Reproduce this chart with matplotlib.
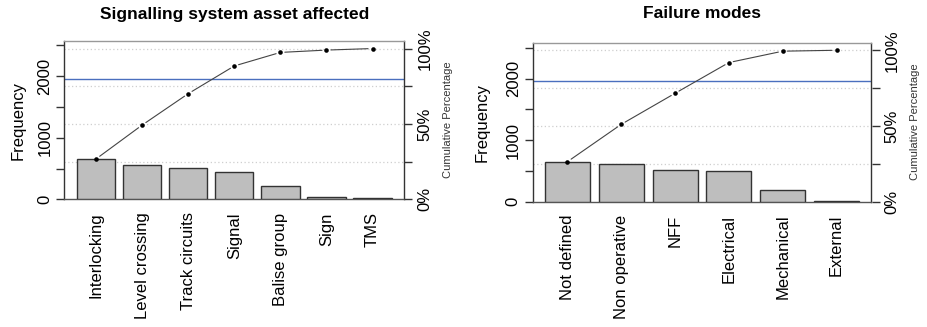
import numpy as np
import matplotlib
matplotlib.use("Agg")
import matplotlib.pyplot as plt

plt.rcParams['font.family'] = ['Liberation Sans', 'DejaVu Sans']

# ---- data ----
assets = ["Interlocking", "Level crossing", "Track circuits", "Signal",
          "Balise group", "Sign", "TMS"]
asset_freq = [656, 550, 510, 450, 220, 38, 25]

modes = ["Not defined", "Non operative", "NFF", "Electrical",
         "Mechanical", "External"]
mode_freq = [648, 608, 505, 500, 185, 15]

titles = ["Signalling system asset affected", "Failure modes"]
freq_ticks = [0, 500, 1000, 1500, 2000, 2500]
freq_labels = ["0", "", "1000", "", "2000", ""]
pct_ticks = [0, 0.25, 0.5, 0.75, 1.0]
pct_labels = ["0%", "", "50%", "", "100%"]

W, H = 928, 327
fig = plt.figure(figsize=(W / 100, H / 100), dpi=100)

# panel boxes in pixels: left, top, right, bottom
boxes = [(64.3, 41.0, 404.3, 199.3), (532.5, 42.7, 871.5, 201.5)]
ylab_x = [18, 482]
cum_x = [448, 915]

FS = 12
dark = "#333333"


def panel(box, cats, vals, title, ylx, cumx):
    l, t, r, b = box
    ax = fig.add_axes([l / W, 1 - b / H, (r - l) / W, (b - t) / H])
    n = len(vals)
    vals = np.asarray(vals, float)
    total = vals.sum()
    cum = np.cumsum(vals)
    pos = 0.7 + 1.2 * np.arange(n)
    lo, hi = 0.2, 1.2 * n
    pad = 0.04 * (hi - lo)
    ax.set_xlim(lo - pad, hi + pad)
    ax.set_ylim(0, 1.05 * total)

    # grid lines at cumulative percentages
    for p in pct_ticks[1:]:
        ax.axhline(p * total, color="#cfcfcf", lw=0.9, ls=(0, (1, 2)), zorder=1)
    ax.axhline(0.8 * total, color="#4a6fbe", lw=1.0, zorder=2)

    ax.bar(pos, vals, width=1.0, color="#bebebe", edgecolor=dark,
           linewidth=1.0, zorder=3)

    # cumulative line (type "b": gaps around points)
    for i in range(n - 1):
        ax.annotate("", xy=(pos[i + 1], cum[i + 1]), xytext=(pos[i], cum[i]),
                    arrowprops=dict(arrowstyle="-", color="#444444", lw=0.8,
                                    shrinkA=3.2, shrinkB=3.2), zorder=4)
    ax.plot(pos, cum, "o", color="black", ms=3.3, mew=0, zorder=5)

    ax.set_xticks(pos)
    ax.set_xticklabels(cats, rotation=90, fontsize=FS)
    ax.tick_params(axis="x", length=0, pad=9.5)

    ax.set_yticks(freq_ticks)
    ax.set_yticklabels(freq_labels, rotation=90, va="center", fontsize=FS)
    ax.tick_params(axis="y", length=5.5, width=1.0, color=dark, pad=3)

    for s in ["left", "right"]:
        ax.spines[s].set_color(dark)
        ax.spines[s].set_linewidth(1.0)
    ax.spines["top"].set_color("#999999")
    ax.spines["bottom"].set_color("#555555")
    ax.spines["top"].set_linewidth(1.0)
    ax.spines["bottom"].set_linewidth(1.0)

    ax2 = ax.twinx()
    ax2.set_ylim(ax.get_ylim())
    ax2.set_yticks([p * total for p in pct_ticks])
    ax2.set_yticklabels(pct_labels, rotation=90, va="center", fontsize=FS)
    ax2.tick_params(axis="y", length=5.5, width=1.0, color=dark, pad=4)
    for s in ax2.spines.values():
        s.set_visible(False)

    cx = (l + r) / 2
    fig.text(cx / W, 1 - 14 / H, title, ha="center", va="center",
             fontsize=12.5, fontweight="bold")
    fig.text(ylx / W, 1 - ((t + b) / 2) / H, "Frequency", rotation=90,
             ha="center", va="center", fontsize=FS)
    fig.text(cumx / W, 1 - ((t + b) / 2) / H, "Cumulative Percentage",
             rotation=90, ha="center", va="center", fontsize=8, color="#333333")


panel(boxes[0], assets, asset_freq, titles[0], ylab_x[0], cum_x[0])
panel(boxes[1], modes, mode_freq, titles[1], ylab_x[1], cum_x[1])

fig.savefig("out.png", dpi=100)
